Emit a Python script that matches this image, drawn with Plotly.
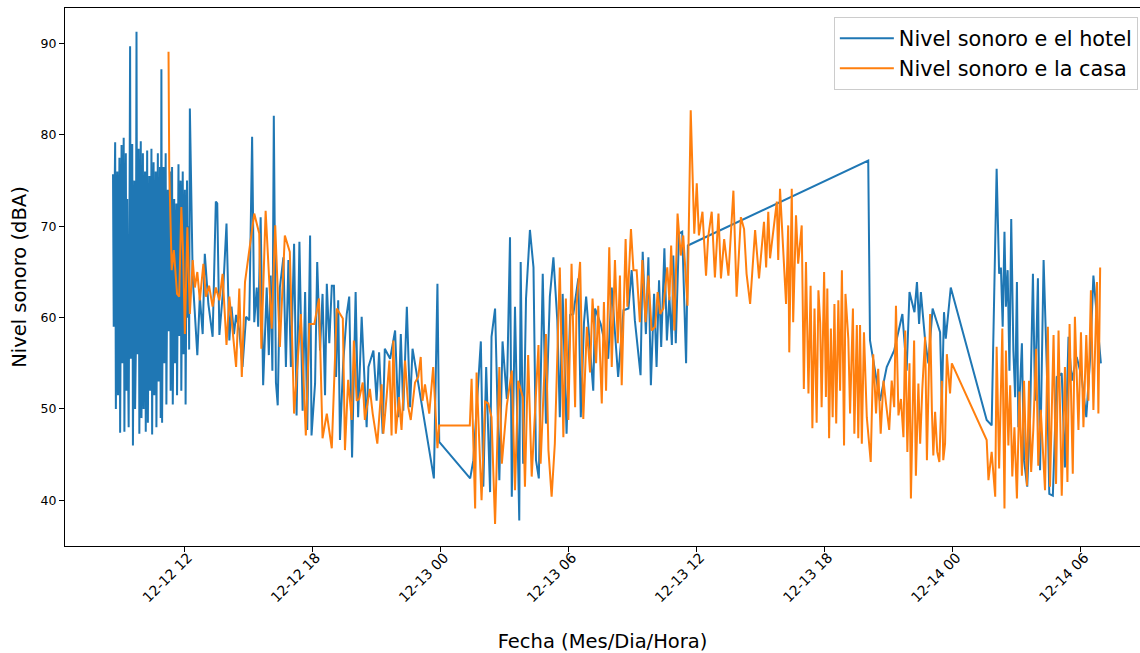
import pandas as pd
import plotly.graph_objects as go

BASE = pd.Timestamp("2023-12-12 00:00")

# ---- Hotel (blue): dense block, every 2 min from 08:40 (minutes after 12-12 00:00)
hotel_dense_start_min = 520
hotel_dense_step_min = 2
hotel_dense_vals = [75.7, 59.0, 72.0, 79.2, 50.0, 68.0, 76.0, 51.5, 64.0, 77.5,
                    47.4, 70.0, 78.9, 55.0, 62.0, 79.7, 47.5, 66.0, 78.0, 52.0,
                    73.0, 56.0, 48.0, 68.0, 89.7, 55.5, 70.0, 79.0, 46.0, 60.0,
                    75.0, 50.0, 56.0, 91.3, 56.0, 64.0, 78.5, 47.3, 69.0, 79.3,
                    49.0, 58.0, 78.0, 50.0, 71.0, 76.0, 47.5, 62.0, 78.3, 48.5,
                    67.0, 75.5, 52.0, 59.0, 78.5, 47.2, 70.0, 77.0, 51.5, 63.0,
                    76.0, 48.0, 72.0, 78.0, 53.0, 58.0, 76.5, 49.0, 87.2, 48.5,
                    65.0, 76.5, 55.0, 70.0, 78.0, 50.5, 61.0, 74.0, 58.5, 66.0,
                    76.0, 52.0, 69.0, 76.5, 50.5, 63.0, 73.0, 55.0, 68.0, 72.5,
                    51.5, 64.0, 76.8, 58.0, 70.0, 75.0, 52.0, 66.0, 76.0, 56.0,
                    69.0, 74.0, 50.5, 62.0, 75.0, 60.0, 70.0, 56.5, 82.9]

# ---- Hotel (blue): remaining readings (minutes after 12-12 00:00, dBA)
hotel_min = [744, 757, 764, 772, 778, 788, 800, 809, 813, 819, 830, 839, 847, 853, 860,
             866, 875, 884, 894, 903, 911, 917, 924, 928, 935, 942, 952, 958, 963, 968,
             972, 978, 983, 989, 999, 1006, 1013, 1020, 1029, 1036, 1044, 1053, 1060, 1066,
             1074, 1078, 1088, 1094, 1102, 1109, 1116, 1121, 1128, 1135, 1141, 1147, 1153,
             1158, 1167, 1177, 1184, 1192, 1202, 1209, 1219, 1233, 1238, 1252, 1261, 1268,
             1278, 1284, 1299, 1313, 1322, 1329, 1336, 1346, 1355, 1362, 1422, 1432, 1437,
             1524, 1533, 1554, 1561, 1569, 1580, 1584, 1594, 1606, 1615, 1627, 1636, 1641,
             1650, 1662, 1666, 1673, 1681, 1692, 1702, 1709, 1717, 1728, 1737, 1748, 1758,
             1769, 1776, 1784, 1795, 1805, 1814, 1828, 1835, 1844, 1850, 1870, 1875, 1891,
             1912, 1922, 1940, 1955, 1969, 1978, 1987, 2003, 2009, 2018, 2025, 2032, 2041,
             2048, 2055, 2061, 2070, 2077, 2084, 2091, 2095, 2102, 2111, 2120, 2131, 2136,
             2643, 2648, 2676, 2695, 2716, 2739, 2751, 2759, 2773, 2780, 2786, 2791, 2803,
             2812, 2824, 2845, 2850, 2856, 2861, 2875, 2976, 2990, 3004, 3011, 3016, 3021,
             3026, 3030, 3035, 3040, 3045, 3051, 3056, 3061, 3065, 3075, 3081, 3090, 3098,
             3106, 3112, 3120, 3126, 3136, 3145, 3152, 3162, 3173, 3187, 3196, 3206, 3215,
             3229, 3243, 3256, 3267, 3276, 3286, 3297]
hotel_vals = [64.4, 55.9, 62.3, 58.2, 67.0, 61.5, 57.9, 72.7, 72.5, 58.1, 63.3, 70.3, 57.5, 61.2, 58.2,
              60.3, 58.6, 54.6, 60.1, 59.7, 79.8, 59.5, 63.3, 59.0, 71.0, 52.6, 63.3, 55.9, 64.6, 54.2,
              82.1, 52.9, 50.4, 63.3, 66.6, 54.6, 66.3, 54.6, 68.1, 49.3, 68.3, 49.8, 62.8, 47.7,
              69.0, 47.1, 52.8, 66.1, 56.4, 62.6, 51.5, 63.7, 57.2, 63.5, 63.5, 53.5, 61.9,
              46.6, 55.0, 60.4, 62.3, 44.7, 62.8, 49.1, 60.1, 48.0, 54.6, 56.4, 50.9, 56.2,
              47.3, 56.6, 55.5, 58.6, 49.1, 58.2, 49.8, 61.2, 50.2, 56.6, 42.4, 63.7, 46.4,
              42.4, 44.4, 57.4, 41.5, 54.6, 40.9, 57.9, 61.0, 42.2, 57.4, 51.1, 68.8, 40.4,
              61.2, 37.8, 66.1, 44.0, 62.1, 69.6, 65.5, 44.4, 42.4, 64.8, 48.4, 62.3, 66.6,
              59.7, 49.1, 62.6, 47.3, 60.3, 60.4, 64.3, 49.1, 59.5, 62.3, 52.0, 61.0, 59.3,
              55.5, 63.3, 53.5, 60.8, 61.0, 65.2, 59.7, 53.7, 67.2, 58.2, 66.6, 52.6, 62.6,
              54.6, 64.1, 56.8, 67.6, 57.5, 62.3, 57.0, 66.8, 57.2, 69.2, 69.4, 55.0, 67.9,
              77.2, 57.5, 50.9, 54.6, 56.4, 60.4, 54.2, 62.8, 60.6, 63.9, 59.3, 62.8, 57.5,
              55.0, 61.0, 58.4, 50.6, 60.6, 57.7, 63.3, 48.8, 48.2, 76.3, 64.8, 65.5, 59.0,
              69.4, 61.2, 65.2, 54.2, 70.8, 56.4, 51.3, 63.9, 48.0, 57.2, 44.4, 41.5, 49.1,
              64.8, 50.9, 64.3, 43.3, 66.3, 54.6, 40.7, 40.5, 53.5, 53.9, 43.6, 57.9, 53.1,
              55.7, 53.5, 49.1, 55.7, 64.6, 60.1, 55.0]

# ---- Casa (orange): minutes after 12-12 00:00, dBA
casa_min = [676, 678, 682, 685, 691, 700, 706, 712, 717, 722, 729, 736, 744, 750, 757, 764, 774,
            781, 790, 800, 809, 819, 828, 839, 847, 866, 875, 882, 891, 907, 917, 931, 937, 949,
            966, 976, 989, 1003, 1017, 1029, 1048, 1062, 1072, 1086, 1099, 1109, 1121, 1135,
            1149, 1166, 1172, 1181, 1191, 1197, 1205, 1212, 1222, 1228, 1242, 1250, 1263, 1275,
            1280, 1289, 1297, 1303, 1308, 1315, 1324, 1331, 1341, 1350, 1357, 1369, 1378, 1385,
            1390, 1397, 1409, 1420, 1432, 1437, 1523, 1528, 1538, 1542, 1556, 1566, 1575, 1584,
            1594, 1606, 1613, 1627, 1641, 1650, 1659, 1672, 1678, 1687, 1697, 1716, 1722, 1737,
            1744, 1753, 1762, 1776, 1786, 1793, 1800, 1809, 1819, 1823, 1833, 1842, 1852, 1861,
            1868, 1878, 1884, 1894, 1900, 1906, 1915, 1922, 1931, 1939, 1945, 1950, 1961, 1966,
            1976, 1983, 1992, 2001, 2008, 2017, 2025, 2034, 2044, 2051, 2058, 2067, 2078, 2084,
            2089, 2098, 2107, 2116, 2123, 2135, 2144, 2154, 2161, 2167, 2177, 2187, 2193, 2203,
            2212, 2222, 2229, 2238, 2250, 2264, 2273, 2285, 2294, 2301, 2311, 2325, 2336, 2350,
            2356, 2362, 2367, 2386, 2390, 2395, 2404, 2412, 2418, 2421, 2428, 2432, 2440, 2446,
            2456, 2462, 2468, 2475, 2481, 2486, 2492, 2498, 2503, 2508, 2512, 2519, 2524, 2528,
            2533, 2538, 2543, 2548, 2553, 2559, 2564, 2569, 2575, 2579, 2587, 2592, 2600, 2604,
            2611, 2615, 2620, 2625, 2631, 2639, 2650, 2657, 2665, 2671, 2678, 2686, 2693, 2702,
            2709, 2716, 2721, 2728, 2735, 2742, 2747, 2753, 2759, 2763, 2772, 2777, 2784, 2789,
            2795, 2803, 2808, 2817, 2822, 2826, 2831, 2837, 2843, 2850, 2854, 2859, 2864, 2873,
            2878, 2976, 2981, 2990, 3000, 3004, 3011, 3020, 3026, 3030, 3037, 3042, 3048, 3054,
            3061, 3068, 3075, 3081, 3089, 3095, 3101, 3107, 3115, 3121, 3128, 3140, 3148, 3154,
            3164, 3171, 3178, 3187, 3196, 3203, 3209, 3218, 3224, 3234, 3241, 3248, 3256, 3262,
            3269, 3276, 3286, 3290, 3295]
casa_vals = [89.1, 76.5, 69.9, 65.2, 67.4, 62.6, 62.3, 72.1, 67.0, 58.2, 69.9, 60.4, 66.3, 63.3, 65.0, 61.9, 65.9,
             62.3, 63.5, 61.2, 63.3, 61.9, 64.8, 57.0, 62.3, 54.6, 63.2, 53.5, 63.9, 68.5, 71.4, 69.2, 56.6, 71.7,
             58.8, 70.1, 56.8, 69.0, 67.2, 49.5, 60.4, 47.1, 59.3, 59.3, 62.1, 46.8, 49.5, 45.7,
             61.0, 59.9, 45.5, 53.2, 48.8, 57.5, 50.9, 51.1, 52.9, 48.8, 52.2, 49.5, 46.2, 52.7,
             47.3, 51.3, 55.3, 47.1, 57.5, 47.3, 51.3, 47.7, 55.3, 50.2, 48.8, 52.9, 53.5, 55.7,
             50.9, 52.7, 49.5, 54.6, 45.7, 48.2, 48.2, 53.3, 39.1, 54.0, 40.0, 50.8, 50.6, 49.1,
             37.4, 54.6, 44.0, 50.4, 54.2, 41.1, 53.1, 51.3, 41.5, 55.9, 42.6, 57.0, 44.0, 58.2,
             45.5, 40.4, 46.2, 65.5, 46.9, 62.1, 48.8, 65.9, 50.2, 61.3, 66.1, 48.9, 59.0, 54.0,
             62.1, 55.0, 61.3, 50.6, 61.7, 52.0, 67.7, 54.6, 66.3, 57.2, 64.6, 52.6, 68.6, 61.2,
             69.7, 65.2, 65.2, 59.5, 66.3, 59.5, 64.6, 58.6, 59.0, 62.8, 60.4, 61.0, 65.5, 61.9,
             67.9, 58.6, 71.4, 66.8, 69.0, 61.3, 82.7, 69.2, 74.7, 69.0, 71.6, 64.6, 68.8, 71.6,
             64.4, 71.4, 64.3, 68.6, 64.6, 73.9, 62.3, 71.0, 69.7, 64.8, 61.5, 69.6, 64.3, 70.5,
             65.5, 71.6, 66.5, 72.7, 66.3, 74.1, 67.4, 61.5, 70.1, 56.2, 74.1, 59.5, 71.2, 65.9,
             70.1, 52.2, 66.1, 51.7, 63.5, 47.9, 61.0, 48.5, 63.0, 59.4, 50.2, 65.0, 51.3, 63.2,
             46.8, 58.8, 49.1, 61.5, 48.4, 61.9, 52.0, 65.2, 46.0, 62.6, 57.7, 49.5, 61.0, 47.3,
             59.2, 46.8, 59.2, 46.2, 58.4, 49.1, 44.2, 56.0, 49.5, 54.4, 47.3, 53.1, 50.6, 47.7,
             53.1, 50.2, 61.3, 49.3, 51.1, 46.9, 58.6, 45.3, 55.0, 40.2, 57.5, 42.7, 52.8, 46.2,
             52.2, 57.9, 44.4, 60.4, 49.8, 44.9, 49.7, 45.3, 44.2, 53.1, 44.4, 46.2, 56.0, 51.7,
             55.0, 46.6, 42.2, 45.3, 40.4, 56.8, 43.5, 58.8, 39.1, 56.4, 46.0, 52.6, 42.6, 48.0,
             40.2, 51.9, 42.7, 53.1, 41.6, 53.1, 43.1, 47.7, 56.6, 43.8, 49.9, 41.1, 59.0, 41.5,
             58.1, 41.8, 58.6, 40.5, 54.6, 42.0, 59.3, 42.9, 60.1, 47.7, 58.4, 48.0, 58.1, 50.9,
             63.0, 49.9, 63.9, 49.5, 65.5]

tick_times = ["2023-12-12 12:00", "2023-12-12 18:00", "2023-12-13 00:00", "2023-12-13 06:00",
              "2023-12-13 12:00", "2023-12-13 18:00", "2023-12-14 00:00", "2023-12-14 06:00"]
tick_labels = ["12-12 12", "12-12 18", "12-13 00", "12-13 06",
               "12-13 12", "12-13 18", "12-14 00", "12-14 06"]
y_ticks = [40, 50, 60, 70, 80, 90]

# ---- build series
hotel_dense_min = [hotel_dense_start_min + i * hotel_dense_step_min for i in range(len(hotel_dense_vals))]
hotel_t = [BASE + pd.Timedelta(minutes=m) for m in hotel_dense_min + hotel_min]
hotel_y = hotel_dense_vals + hotel_vals
casa_t = [BASE + pd.Timedelta(minutes=m) for m in casa_min]

fig = go.Figure()
fig.add_trace(go.Scatter(x=hotel_t, y=hotel_y, mode="lines", name="Nivel sonoro e el hotel",
                         line=dict(color="#1f77b4", width=2)))
fig.add_trace(go.Scatter(x=casa_t, y=casa_vals, mode="lines", name="Nivel sonoro e la casa",
                         line=dict(color="#ff7f0e", width=2)))

font_family = "DejaVu Sans"
x_lo = BASE + pd.Timedelta(minutes=385)
x_hi = BASE + pd.Timedelta(minutes=3407)

fig.update_layout(
    width=1140, height=653,
    margin=dict(l=65, r=0, t=8, b=107),
    paper_bgcolor="white", plot_bgcolor="white",
    font=dict(family=font_family, color="black"),
    showlegend=True,
    legend=dict(x=0.998, y=0.983, xanchor="right", yanchor="top",
                font=dict(size=20.8, family=font_family, color="black"),
                bgcolor="rgba(255,255,255,0.8)", bordercolor="#cccccc", borderwidth=1,
                tracegroupgap=0, itemwidth=54),
    xaxis=dict(range=[x_lo, x_hi], tickmode="array", tickvals=tick_times, ticktext=tick_labels,
               tickangle=-45, tickfont=dict(size=14), ticks="outside", ticklen=5, tickcolor="black",
               ticklabelstandoff=-8, ticklabelshift=4, automargin=False,
               showline=True, linecolor="black", linewidth=1, mirror=True, showgrid=False,
               zeroline=False,
               title=dict(text="Fecha (Mes/Dia/Hora)", font=dict(size=19.5), standoff=30)),
    yaxis=dict(range=[35.0, 93.9], tickmode="array", tickvals=y_ticks, automargin=False,
               tickfont=dict(size=12.5), ticks="outside", ticklen=5, tickcolor="black",
               showline=True, linecolor="black", linewidth=1, mirror=False, showgrid=False,
               zeroline=False,
               title=dict(text="Nivel sonoro (dBA)", font=dict(size=19.5), standoff=8)),
)

fig.write_html("out.html", config={"displayModeBar": False},
               post_script="document.body.style.margin='0px';")
